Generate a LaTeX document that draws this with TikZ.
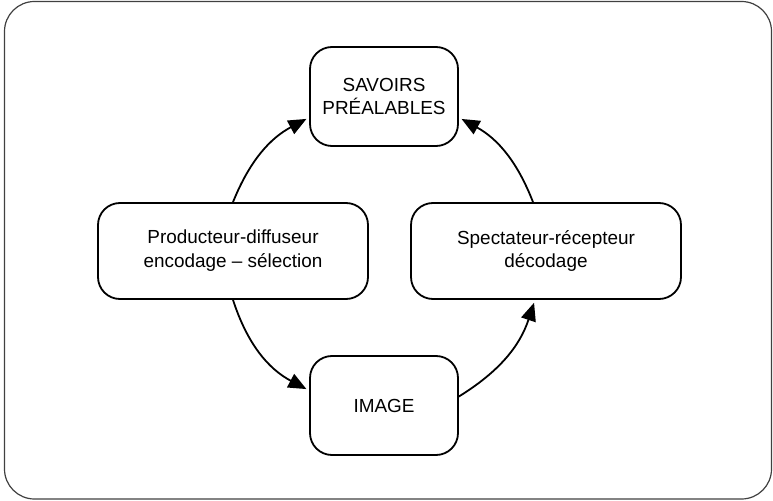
\documentclass[tikz,border=0pt]{standalone}
\usepackage{fontspec}
\setmainfont{Liberation Sans}
\usetikzlibrary{arrows.meta}
\tikzstyle{box}=[draw,rounded corners=22bp,line width=1.8bp,align=center,inner sep=0pt,font=\fontsize{19}{24}\selectfont]
\tikzstyle{small box}=[box,minimum width=148bp,minimum height=99bp]
\tikzstyle{wide box}=[box,minimum width=270bp,minimum height=96bp]
\tikzstyle{edge}=[draw,line width=1.8bp,shorten >=3bp,-{Triangle[length=18bp,width=15bp]}]

\begin{document}
\begin{tikzpicture}[x=1bp,y=-1bp]
  \useasboundingbox (0,0) rectangle (773,501);
  % outer frame
  \draw[black!75,line width=1.2bp,rounded corners=30bp] (4.5,1.5) rectangle (771.5,499);

  % First we draw the boxes
  \node[small box] (savoirs) at (384,96.5) {SAVOIRS\\PRÉALABLES};
  \node[wide box] (producteur) at (233,251) {Producteur-diffuseur\\encodage – sélection};
  \node[wide box] (spectateur) at (546,251) {Spectateur-récepteur\\décodage};
  \node[small box] (image) at (384,405.5) {IMAGE};

  % Then the curved arrows of the cycle
  \path[edge] (producteur.north) to[bend left=20] ([yshift=-21bp]savoirs.west);
  \path[edge] ([xshift=-13bp]spectateur.north) to[bend right=20] ([yshift=-21bp]savoirs.east);
  \path[edge] (producteur.south) to[bend right=22] ([yshift=15bp]image.west);
  \path[edge] ([yshift=9bp]image.east) to[bend right=20] ([xshift=-11bp]spectateur.south);
\end{tikzpicture}
\end{document}
